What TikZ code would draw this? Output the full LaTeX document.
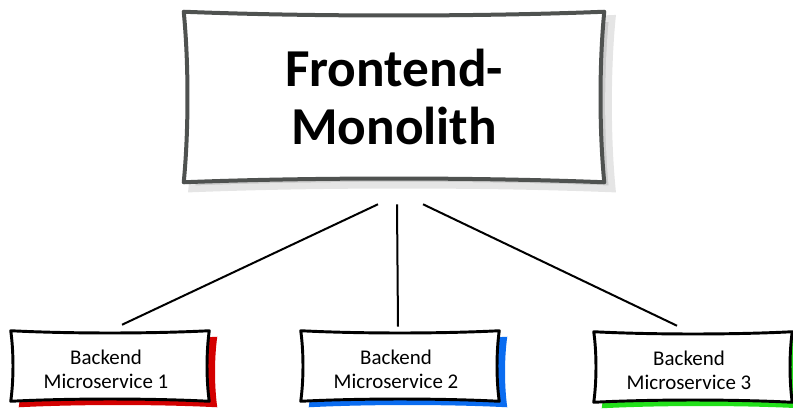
\documentclass[tikz,border=0pt]{standalone}
\usepackage{fontspec}
\setmainfont{Carlito}
\usetikzlibrary{calc,backgrounds}

\definecolor{outlinegray}{HTML}{4F5250}
\definecolor{shadowred}{HTML}{D40000}
\definecolor{shadowblue}{HTML}{0A6CF0}
\definecolor{shadowgreen}{HTML}{22E01A}

% outline with bowed-in sides: #1 node, #2 bow
\newcommand{\sketchpath}[2]{(#1.north west)
  .. controls ($(#1.north west)!0.3!(#1.north east)+(0,#2)$) and ($(#1.north west)!0.7!(#1.north east)+(0,#2)$) .. (#1.north east)
  .. controls ($(#1.north east)!0.3!(#1.south east)+(-#2,0)$) and ($(#1.north east)!0.7!(#1.south east)+(-#2,0)$) .. (#1.south east)
  .. controls ($(#1.south east)!0.3!(#1.south west)+(0,-#2)$) and ($(#1.south east)!0.7!(#1.south west)+(0,-#2)$) .. (#1.south west)
  .. controls ($(#1.south west)!0.3!(#1.north west)+(#2,0)$) and ($(#1.south west)!0.7!(#1.north west)+(#2,0)$) .. cycle}

\tikzset{
  mainbox/.style={minimum width=315pt, minimum height=127.5pt, inner sep=0pt, align=center,
    font=\bfseries\fontsize{40}{44}\selectfont},
  servicebox/.style={minimum width=148.5pt, minimum height=52.5pt, inner sep=0pt, align=center,
    font=\fontsize{15.7}{17.8}\selectfont},
  link/.style={line width=1.5pt}
}

\begin{document}
\begin{tikzpicture}[x=0.75pt, y=-0.75pt]
  \useasboundingbox (0,0) rectangle (793,408);

  % nodes
  \node[mainbox] (mono) at (394,97) {Frontend-\\Monolith};
  \node[servicebox] (ms1) at (106,369) {Backend\\Microservice 1};
  \node[servicebox] (ms2) at (396,369) {Backend\\Microservice 2};
  \node[servicebox] (ms3) at (689,370) {Backend\\Microservice 3};

  \begin{scope}[on background layer]
    % shadows
    \fill[black!20, transform canvas={xshift=6pt, yshift=-5pt}] \sketchpath{mono}{5};
    \draw[black!10, line width=5pt, transform canvas={xshift=6pt, yshift=-5pt}] \sketchpath{mono}{5};
    \fill[shadowred, transform canvas={xshift=9pt, yshift=-2.25pt}] \sketchpath{ms1}{3};
    \fill[shadowblue, transform canvas={xshift=9pt, yshift=-2.25pt}] \sketchpath{ms2}{3};
    \fill[shadowgreen, transform canvas={xshift=9pt, yshift=-2.25pt}] \sketchpath{ms3}{3};
    % outlines
    \draw[outlinegray, fill=white, line width=3pt, line join=round] \sketchpath{mono}{5};
    \foreach \n in {ms1,ms2,ms3}
      \draw[black, fill=white, line width=2.2pt, line join=round, transform canvas={xshift=3pt, yshift=2.25pt}] \sketchpath{\n}{3};
  \end{scope}

  % links
  \draw[link] ([xshift=-12pt, yshift=-16.5pt]mono.south) -- ([xshift=12pt, yshift=6.75pt]ms1.north);
  \draw[link] ([xshift=2.25pt, yshift=-16.5pt]mono.south) -- ([xshift=1.5pt, yshift=5.25pt]ms2.north);
  \draw[link] ([xshift=21.75pt, yshift=-16.5pt]mono.south) -- ([xshift=-9pt, yshift=6.75pt]ms3.north);
\end{tikzpicture}
\end{document}
